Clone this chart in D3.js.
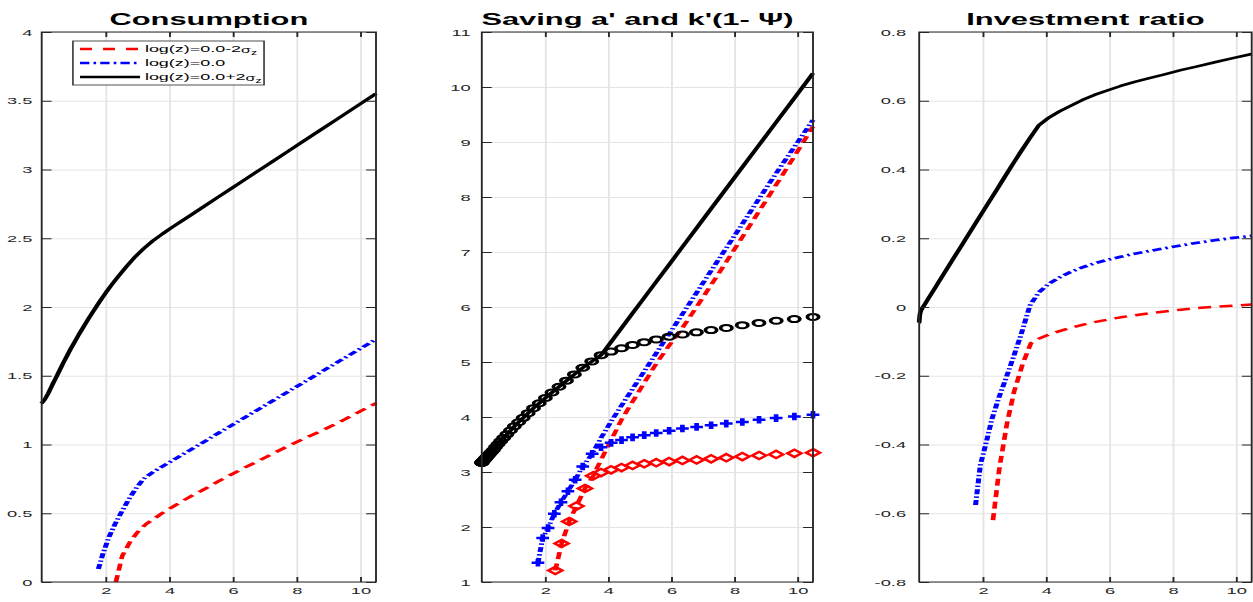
<!DOCTYPE html>
<html><head><meta charset="utf-8">
<script src="https://cdn.jsdelivr.net/npm/d3@7"></script>
<style>
html,body{margin:0;padding:0;background:#fff;}
svg{display:block;}
text{font-family:"Liberation Sans",Arial,Helvetica,sans-serif;}
</style></head><body>
<script>
// ---- cash-on-hand grids for the three productivity states ----
const aHigh = [0,0.0001,0.0006,0.002,0.005,0.009,0.016,0.026,0.038,0.054,
  0.075,0.099,0.129,0.164,0.205,0.252,0.306,0.367,0.436,0.512,
  0.597,0.692,0.795,0.909,1.032,1.167,1.313,1.470,1.639,1.822,
  2.016,2.225,2.447,2.684,2.935,3.202,3.484,3.782,4.097,4.430,
  4.779,5.147,5.533,5.937,6.361,6.805,7.268,7.752,8.258,8.786,
  9.334,9.906,10.5];
const aMid = [1.78,1.93,2.10,2.30,2.51,2.73,2.96,3.20,3.50,3.78,4.10,4.43,4.78,
  5.15,5.53,5.94,6.36,6.81,7.27,7.75,8.26,8.79,9.33,9.91,10.5];
const aLow = [2.33,2.53,2.77,3.00,3.27,3.53,3.78,4.10,4.43,4.78,5.15,5.53,5.94,
  6.36,6.81,7.27,7.75,8.26,8.79,9.33,9.91,10.5];

// ---- consumption ----
const consHigh = [1.300,1.300,1.300,1.301,1.302,1.303,1.305,1.308,1.311,1.316,
  1.322,1.330,1.341,1.355,1.372,1.395,1.42,1.45,1.48,1.515,
  1.555,1.60,1.645,1.695,1.745,1.80,1.855,1.915,1.975,2.04,
  2.105,2.17,2.235,2.30,2.365,2.425,2.48,2.53,2.58,2.63,
  2.683,2.739,2.798,2.859,2.924,2.991,3.061,3.135,3.212,3.292,
  3.375,3.462,3.552];
const consMid = [0.095,0.21,0.32,0.42,0.51,0.60,0.68,0.75,0.80,0.839,0.883,0.928,0.976,
  1.027,1.080,1.136,1.194,1.256,1.320,1.386,1.456,1.529,1.604,1.684,1.765];
const consLow = [0.0,0.19,0.29,0.36,0.42,0.46,0.50,0.545,0.59,0.635,0.68,0.73,0.78,
  0.83,0.88,0.935,0.99,1.045,1.10,1.16,1.23,1.30];

// ---- saving: a' (lines) and k'(1-Psi) (markers) ----
const saveKHigh = [3.17,3.17,3.17,3.171,3.173,3.176,3.18,3.187,3.195,3.205,
  3.218,3.233,3.252,3.274,3.30,3.33,3.363,3.40,3.455,3.505,
  3.56,3.62,3.685,3.755,3.83,3.905,3.985,4.07,4.16,4.25,
  4.345,4.445,4.55,4.66,4.775,4.895,5.01,5.125,5.19,5.25,
  5.31,5.36,5.41,5.46,5.50,5.54,5.58,5.62,5.67,5.71,
  5.75,5.78,5.82];
const saveAHigh = [3.17,3.17,3.17,3.171,3.173,3.176,3.18,3.187,3.195,3.205,
  3.218,3.233,3.252,3.274,3.30,3.33,3.363,3.40,3.455,3.505,
  3.56,3.62,3.685,3.755,3.83,3.905,3.985,4.07,4.16,4.25,
  4.345,4.445,4.55,4.66,4.775,4.895,5.01,5.125,5.365,5.619,
  5.886,6.166,6.461,6.769,7.093,7.431,7.785,8.154,8.540,8.943,
  9.361,9.797,10.25];
const saveAMid = [1.35,1.80,1.98,2.24,2.45,2.65,2.86,3.10,3.33,3.62,3.92,4.21,4.51,
  4.83,5.16,5.51,5.87,6.26,6.66,7.07,7.51,7.97,8.43,8.91,9.40];
const saveKMid = [1.35,1.80,1.98,2.24,2.45,2.65,2.86,3.10,3.33,3.45,3.53,3.58,3.63,
  3.67,3.71,3.75,3.79,3.82,3.85,3.88,3.91,3.95,3.98,4.01,4.04];
const saveALow = [1.21,1.70,2.10,2.38,2.70,2.93,3.22,3.58,3.95,4.28,4.62,4.97,5.30,
  5.62,6.00,6.40,6.82,7.27,7.74,8.22,8.74,9.28];
const saveKLow = [1.21,1.70,2.10,2.38,2.70,2.93,2.99,3.04,3.08,3.12,3.15,3.17,3.19,
  3.21,3.22,3.24,3.26,3.28,3.30,3.32,3.34,3.35];

// ---- investment ratio ----
const invHigh = [-0.045,-0.045,-0.044,-0.042,-0.038,-0.033,-0.026,-0.020,-0.015,-0.011,
  -0.007,-0.003,0.001,0.006,0.012,0.019,0.027,0.036,0.046,0.057,
  0.070,0.084,0.099,0.116,0.134,0.154,0.175,0.198,0.223,0.250,
  0.278,0.309,0.341,0.376,0.413,0.451,0.490,0.529,0.551,0.569,
  0.585,0.602,0.617,0.630,0.643,0.655,0.666,0.677,0.689,0.700,
  0.712,0.724,0.736];
const invMid = [-0.576,-0.46,-0.40,-0.325,-0.265,-0.21,-0.15,-0.085,0.005,0.043,0.068,
  0.086,0.102,0.115,0.127,0.137,0.146,0.155,0.163,0.171,0.179,0.187,0.194,0.201,0.207];
const invLow = [-0.62,-0.47,-0.34,-0.245,-0.165,-0.105,-0.092,-0.080,-0.070,-0.061,
  -0.052,-0.044,-0.037,-0.030,-0.024,-0.018,-0.013,-0.008,-0.003,0.001,0.004,0.007];

// ---- axes ticks and labels ----
const xTicks = [2,4,6,8,10];
const xTickLabels = ["2","4","6","8","10"];
const consTicks = [0,0.5,1,1.5,2,2.5,3,3.5,4];
const consTickLabels = ["0","0.5","1","1.5","2","2.5","3","3.5","4"];
const saveTicks = [1,2,3,4,5,6,7,8,9,10,11];
const saveTickLabels = ["1","2","3","4","5","6","7","8","9","10","11"];
const invTicks = [-0.8,-0.6,-0.4,-0.2,0,0.2,0.4,0.6,0.8];
const invTickLabels = ["-0.8","-0.6","-0.4","-0.2","0","0.2","0.4","0.6","0.8"];
const titles = ["Consumption", "Saving a' and k'(1- \u03A8)", "Investment ratio"];

// ---- figure geometry (drawn in a frame stretched horizontally) ----
const W = 1253, H = 602, SX = 1.87;
const yTop = 32, yBot = 582;
const xDomain = [0, 10.5];
const AXC = "#262626";

const svg = d3.select("body").append("svg").attr("width", W).attr("height", H);
const root = svg.append("g").attr("transform", `scale(${SX},1)`);

const states = {
  low:  {color:"#ff0000", dash:"7,4.5", marker:"diamond", width:2.5},
  mid:  {color:"#0000ff", dash:"5,2.2,1.4,2.2", marker:"plus", width:2.7},
  high: {color:"#000000", dash:null, marker:"circle", width:2.5}
};

function fmt(vals, labels) { return d => labels[vals.indexOf(d)]; }

function drawPanel(p) {
  const g = root.append("g");
  const x = d3.scaleLinear().domain(xDomain).range([p.left, p.right]);
  const y = d3.scaleLinear().domain(p.yDomain).range([yBot, yTop]);

  // grid
  const gx = g.append("g").attr("transform", `translate(0,${yBot})`)
    .call(d3.axisBottom(x).tickValues(xTicks).tickSize(-(yBot - yTop)).tickFormat(""));
  const gy = g.append("g").attr("transform", `translate(${p.left},0)`)
    .call(d3.axisLeft(y).tickValues(p.yTicks).tickSize(-(p.right - p.left)).tickFormat(""));
  [gx, gy].forEach(s => {
    s.select(".domain").remove();
    s.selectAll("line").attr("stroke", "#e4e4e4").attr("stroke-width", 1);
  });

  // curves
  p.series.forEach(s => {
    const st = states[s.state];
    if (s.line) {
      const line = d3.line().x((d, i) => x(s.xs[i])).y(d => y(d));
      g.append("path").datum(s.ys)
        .attr("d", line)
        .attr("fill", "none")
        .attr("stroke", st.color)
        .attr("stroke-width", st.width)
        .attr("stroke-dasharray", st.dash)
        .attr("stroke-linejoin", "round");
    }
    if (s.markers) {
      const mg = g.append("g");
      const pts = s.ys.map((v, i) => [x(s.xs[i]), y(v)]);
      if (st.marker === "circle") {
        mg.selectAll("circle").data(pts).join("circle")
          .attr("cx", d => d[0]).attr("cy", d => d[1]).attr("r", 3)
          .attr("fill", "none").attr("stroke", st.color).attr("stroke-width", 2);
      } else if (st.marker === "plus") {
        mg.selectAll("path").data(pts).join("path")
          .attr("d", d => `M${d[0]-3.4},${d[1]}H${d[0]+3.4}M${d[0]},${d[1]-3.8}V${d[1]+3.8}`)
          .attr("fill", "none").attr("stroke", st.color).attr("stroke-width", 2.5);
      } else {
        const r = 3.7;
        mg.selectAll("path").data(pts).join("path")
          .attr("d", d => `M${d[0]},${d[1]-r}L${d[0]+r},${d[1]}L${d[0]},${d[1]+r}L${d[0]-r},${d[1]}Z`)
          .attr("fill", "none").attr("stroke", st.color).attr("stroke-width", 2);
      }
    }
  });

  // box and ticks
  g.append("rect").attr("x", p.left).attr("y", yTop)
    .attr("width", p.right - p.left).attr("height", yBot - yTop)
    .attr("fill", "none").attr("stroke", AXC).attr("stroke-width", 1);

  const axes = [
    g.append("g").attr("transform", `translate(0,${yBot})`)
      .call(d3.axisBottom(x).tickValues(xTicks).tickSizeInner(-5).tickSizeOuter(0).tickPadding(5)
        .tickFormat(fmt(xTicks, xTickLabels))),
    g.append("g").attr("transform", `translate(0,${yTop})`)
      .call(d3.axisTop(x).tickValues(xTicks).tickSizeInner(-5).tickSizeOuter(0).tickFormat("")),
    g.append("g").attr("transform", `translate(${p.left},0)`)
      .call(d3.axisLeft(y).tickValues(p.yTicks).tickSizeInner(-5.3).tickSizeOuter(0).tickPadding(p.pad)
        .tickFormat(fmt(p.yTicks, p.yLabels))),
    g.append("g").attr("transform", `translate(${p.right},0)`)
      .call(d3.axisRight(y).tickValues(p.yTicks).tickSizeInner(-5.3).tickSizeOuter(0).tickFormat(""))
  ];
  axes.forEach(a => {
    a.attr("font-family", null).attr("font-size", null);
    a.select(".domain").remove();
    a.selectAll("line").attr("stroke", AXC).attr("stroke-width", 1);
    a.selectAll("text").attr("fill", AXC).style("font-size", "9.8px");
  });

  // title
  g.append("text")
    .attr("x", (p.left + p.right) / 2 + (p.titleShift || 0)).attr("y", 25)
    .attr("text-anchor", "middle")
    .style("font-weight", "bold").style("font-size", "16.5px").style("white-space", "pre")
    .attr("fill", "#000")
    .text(p.title);

  return {g, x, y};
}

const P1 = drawPanel({
  left: 41.7 / SX, right: 376 / SX, yDomain: [0, 4], yTicks: consTicks, yLabels: consTickLabels,
  pad: 5, title: titles[0],
  series: [
    {state:"low", xs:aLow, ys:consLow, line:true},
    {state:"mid", xs:aMid, ys:consMid, line:true},
    {state:"high", xs:aHigh, ys:consHigh, line:true}
  ]
});

drawPanel({
  left: 481.8 / SX, right: 813 / SX, yDomain: [1, 11], yTicks: saveTicks, yLabels: saveTickLabels,
  pad: 6, title: titles[1], titleShift: -5.3,
  series: [
    {state:"low", xs:aLow, ys:saveALow, line:true},
    {state:"mid", xs:aMid, ys:saveAMid, line:true},
    {state:"high", xs:aHigh, ys:saveAHigh, line:true},
    {state:"low", xs:aLow, ys:saveKLow, markers:true},
    {state:"mid", xs:aMid, ys:saveKMid, markers:true},
    {state:"high", xs:aHigh, ys:saveKHigh, markers:true}
  ]
});

drawPanel({
  left: 919.2 / SX, right: 1251.7 / SX, yDomain: [-0.8, 0.8], yTicks: invTicks, yLabels: invTickLabels,
  pad: 7, title: titles[2],
  series: [
    {state:"low", xs:aLow, ys:invLow, line:true},
    {state:"mid", xs:aMid, ys:invMid, line:true},
    {state:"high", xs:aHigh, ys:invHigh, line:true}
  ]
});

// legend in the consumption panel
const legendItems = [
  {state:"low", text:"log(z)=0.0-2", sigma:true},
  {state:"mid", text:"log(z)=0.0", sigma:false},
  {state:"high", text:"log(z)=0.0+2", sigma:true}
];
const lg = P1.g.append("g");
lg.append("rect").attr("x", 39).attr("y", 41).attr("width", 102.2).attr("height", 44)
  .attr("fill", "#fff").attr("stroke", AXC).attr("stroke-width", 0.8);
legendItems.forEach((it, i) => {
  const st = states[it.state];
  const cy = 49 + i * 14;
  lg.append("line").attr("x1", 42.8).attr("x2", 74.9).attr("y1", cy).attr("y2", cy)
    .attr("stroke", st.color).attr("stroke-width", st.width)
    .attr("stroke-dasharray", it.state === "low" ? "6.4,5.9" : st.dash);
  const t = lg.append("text").attr("x", 77.5).attr("y", cy + 3.5)
    .attr("fill", "#000").style("font-size", "9.6px").text(it.text);
  if (it.sigma) {
    t.append("tspan").attr("dy", 1).style("font-size", "8.5px").text("\u03C3");
    t.append("tspan").attr("dy", 1.8).style("font-size", "6.5px").text("z");
  }
});
</script>
</body></html>
